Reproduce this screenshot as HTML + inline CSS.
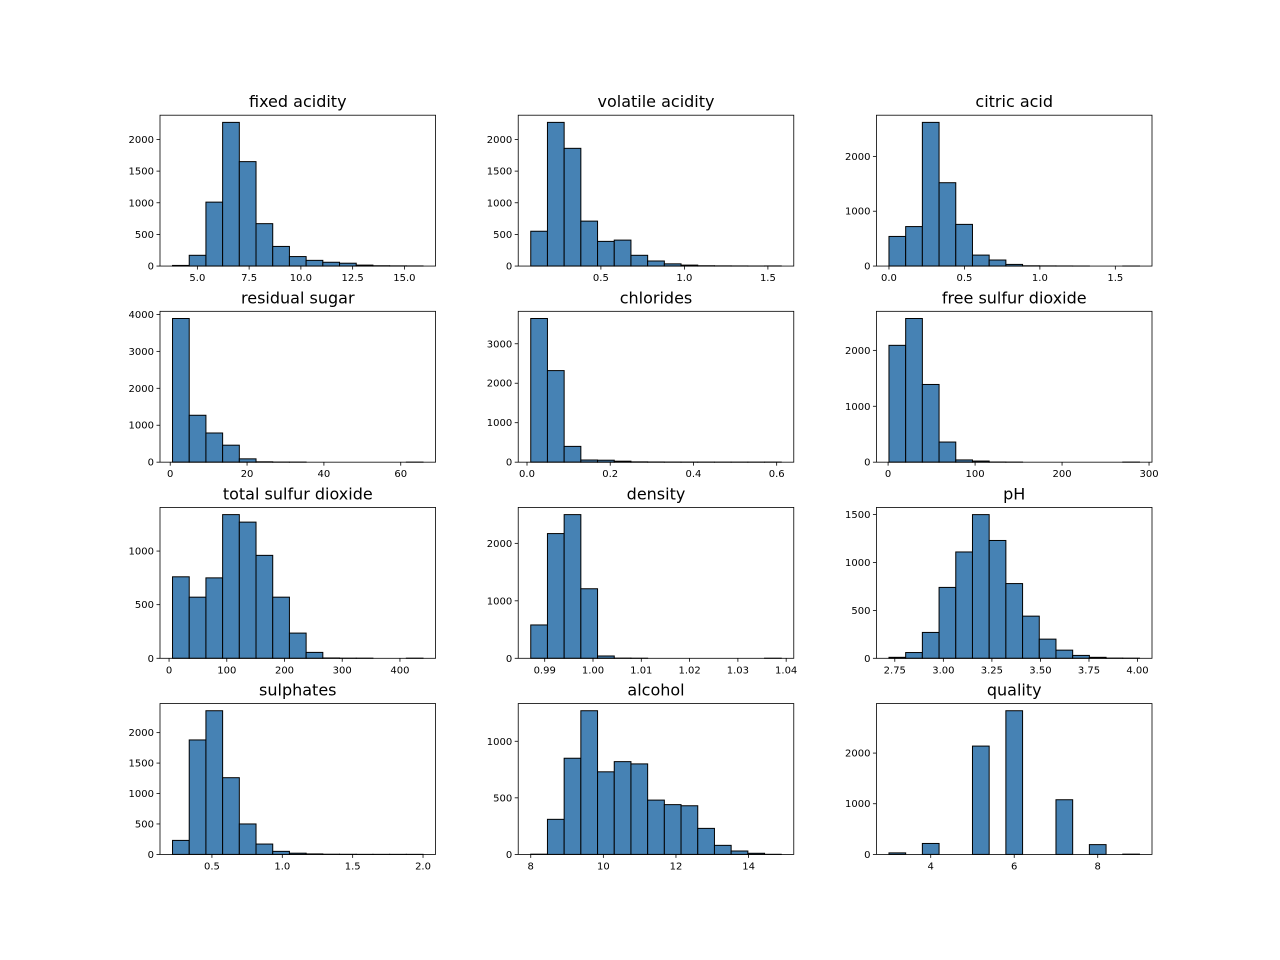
<!DOCTYPE html>
<html><head><meta charset="utf-8"><style>
body{margin:0;background:#fff}
svg{display:block;font-family:"DejaVu Sans","Liberation Sans",sans-serif}
</style></head><body>
<svg id="fig" width="1280" height="960" viewBox="0 0 1280 960" xmlns="http://www.w3.org/2000/svg"></svg>
<script>
const titles = ["fixed acidity","volatile acidity","citric acid","residual sugar","chlorides","free sulfur dioxide","total sulfur dioxide","density","pH","sulphates","alcohol","quality"];
const mins = [3.8,0.08,0,0.6,0.009,1,6,0.98711,2.72,0.22,8.0,3];
const maxs = [15.9,1.58,1.66,65.8,0.611,289,440,1.03898,4.01,2.0,14.9,9];
const counts0 = [10,170,1010,2270,1650,670,310,150,90,60,45,15,5,3,2];
const counts1 = [550,2270,1860,710,390,410,170,80,35,15,5,3,2,1,2];
const counts2 = [540,720,2620,1520,760,200,110,30,5,3,2,1,0,0,1];
const counts3 = [3890,1270,790,460,90,10,3,2,0,0,0,0,0,0,1];
const counts4 = [3640,2320,400,55,50,25,8,5,3,2,2,1,1,1,2];
const counts5 = [2090,2570,1390,360,40,20,3,1,0,0,0,0,0,0,1];
const counts6 = [760,570,750,1340,1270,960,570,235,55,3,1,1,0,0,1];
const counts7 = [580,2170,2500,1210,40,3,1,0,0,0,0,0,0,0,1];
const counts8 = [10,60,270,740,1110,1500,1230,780,440,200,85,30,10,2,1];
const counts9 = [230,1880,2360,1260,500,170,50,20,8,3,2,1,1,1,1];
const counts10 = [2,310,850,1270,730,820,800,480,440,430,230,80,30,10,1];
const counts11 = [30,0,216,0,0,2138,0,2836,0,0,1079,0,193,0,5];
const xticks = [[5,7.5,10,12.5,15],[0.5,1.0,1.5],[0,0.5,1.0,1.5],[0,20,40,60],[0,0.2,0.4,0.6],[0,100,200,300],[0,100,200,300,400],[0.99,1.0,1.01,1.02,1.03,1.04],[2.75,3.0,3.25,3.5,3.75,4.0],[0.5,1.0,1.5,2.0],[8,10,12,14],[4,6,8]];
const xtickLabels = [["5.0","7.5","10.0","12.5","15.0"],["0.5","1.0","1.5"],["0.0","0.5","1.0","1.5"],["0","20","40","60"],["0.0","0.2","0.4","0.6"],["0","100","200","300"],["0","100","200","300","400"],["0.99","1.00","1.01","1.02","1.03","1.04"],["2.75","3.00","3.25","3.50","3.75","4.00"],["0.5","1.0","1.5","2.0"],["8","10","12","14"],["4","6","8"]];
const yticks = [[0,500,1000,1500,2000],[0,500,1000,1500,2000],[0,1000,2000],[0,1000,2000,3000,4000],[0,1000,2000,3000],[0,1000,2000],[0,500,1000],[0,1000,2000],[0,500,1000,1500],[0,500,1000,1500,2000],[0,500,1000],[0,1000,2000]];
const allCounts=[counts0,counts1,counts2,counts3,counts4,counts5,counts6,counts7,counts8,counts9,counts10,counts11];

const NS="http://www.w3.org/2000/svg";
const svg=document.getElementById('fig');
function mk(tag,attrs,parent){const e=document.createElementNS(NS,tag);for(const k in attrs)e.setAttribute(k,attrs[k]);(parent||svg).appendChild(e);return e;}
const W=992/(3+2*0.3), GX=W*0.3, H=739.2/(4+3*0.3), GY=H*0.3;
for(let i=0;i<12;i++){
  const r=Math.floor(i/3), c=i%3;
  const L=160+c*(W+GX), T=115.2+r*(H+GY);
  const g=mk('g',{});
  
  
  const cnt=allCounts[i], n=cnt.length, mn=mins[i], mx=maxs[i];
  const span=mx-mn, x0=mn-span*0.05, x1=mx+span*0.05;
  const ymax=Math.max(...cnt)*1.05;
  const X=v=>L+(v-x0)/(x1-x0)*W;
  const Y=v=>T+H-v/ymax*H;
  const bw=span/n;
  for(let k=0;k<n;k++){
    const a=X(mn+k*bw), b=X(mn+(k+1)*bw);
    const rect=mk('rect',{x:a,y:Y(cnt[k]),width:b-a,height:Y(0)-Y(cnt[k]),fill:'#4682b4',stroke:'#000','stroke-width':1},g);
    
    
  }
  const frame=mk('rect',{x:L,y:T,width:W,height:H,fill:'none',stroke:'#000','stroke-width':0.8},g);
  
  
  xticks[i].forEach((v,j)=>{
    const x=X(v);
    mk('line',{x1:x,x2:x,y1:T+H,y2:T+H+3.5,stroke:'#000','stroke-width':0.8},g);
    const t=mk('text',{x:x,y:T+H+15,'font-size':10,'text-anchor':'middle'},g);
    t.textContent=xtickLabels[i][j];
    
    
  });
  yticks[i].forEach(v=>{
    const y=Y(v);
    mk('line',{x1:L-3.5,x2:L,y1:y,y2:y,stroke:'#000','stroke-width':0.8},g);
    const t=mk('text',{x:L-6,y:y+3.5,'font-size':10,'text-anchor':'end'},g);
    t.textContent=String(v);
    
    
  });
  const tt=mk('text',{x:L+W/2,y:T-8,'font-size':16,'text-anchor':'middle'},g);
  tt.textContent=titles[i];
  
  
}
</script>
</body></html>
